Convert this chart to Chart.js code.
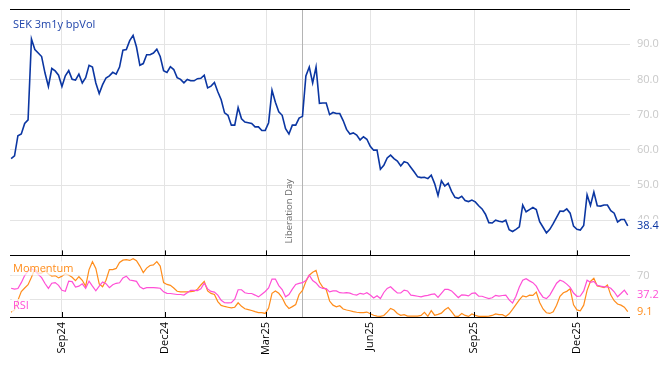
<!DOCTYPE html>
<html>
<head>
<meta charset="utf-8">
<script src="https://cdn.jsdelivr.net/npm/chart.js@4.4.1/dist/chart.umd.min.js"></script>
<style>
  html, body { margin: 0; padding: 0; background: #fff; }
</style>
</head>
<body>
<canvas id="chart" width="668" height="366"></canvas>
<script>
const DAY = 86400000;
const firstDate = '2024-07-18';
const stepDays = 3;

// SEK 3m1y bp vol, one reading every 3 days
const vol = [
  57.5, 58.3, 64, 64.5, 67.5, 68.5, 91.5, 88.5, 87.5, 86.5,
  81.8, 78, 83.1, 82.4, 81.2, 78, 81, 82.5, 80, 79.8,
  81.5, 79, 80.5, 84, 83.5, 79, 76, 78.5, 80.4, 81,
  82, 81.5, 83.5, 88.3, 88.5, 91, 92.5, 89.2, 84, 84.5,
  87, 87, 87.5, 88.6, 86.5, 82.5, 82, 83.6, 82.8, 80.5,
  80, 79, 80, 79.6, 79.6, 80.2, 80.3, 81.2, 77.6, 78.1,
  79.1, 76.5, 74.2, 70.5, 69.8, 67, 67, 72, 68.8, 67.9,
  67.7, 67.5, 66.5, 66.5, 65.5, 65.5, 67.7, 76.9, 73.5, 70.8,
  69.8, 66, 64.5, 67, 67, 69, 69.5, 81, 83.5, 79,
  83.5, 73.2, 73.3, 73.3, 70, 70.6, 70.3, 70.3, 68.3, 65.8,
  64.5, 64.8, 64.2, 62.8, 63.7, 63, 61, 59.9, 59.9, 54.5,
  55.6, 57.7, 58.5, 57.5, 56.8, 55.4, 56.6, 56.3, 55, 53.7,
  52.3, 52.1, 52.2, 51.8, 52.8, 50.4, 47, 51.2, 49.7, 50.5,
  48.2, 46.5, 46.2, 46.8, 45.6, 45.3, 45.7, 45.2, 44.1, 43.2,
  41.7, 39.3, 39.2, 40, 39.7, 39.5, 40, 37.3, 36.8, 37.4,
  38.1, 44.3, 42.4, 43, 43.6, 43, 39.6, 38, 36.4, 37.4,
  39, 40.8, 42.6, 42.5, 43.2, 42, 38.3, 37.4, 37.2, 38.5,
  47.2, 44.2, 48, 44.1, 44, 44.3, 44.3, 42.7, 42, 39.5,
  40.2, 40.2, 38.4
];

const rsi = [
  48.5, 47, 48, 58, 70, 77.5, 81.5, 78, 72, 66.5,
  56.5, 48.2, 57, 58, 53.5, 45, 43.5, 60.5, 59.7, 50.5,
  52, 56, 48.5, 60.6, 52, 44.3, 52, 59.2, 56.3, 49.5,
  54.5, 56.9, 57.8, 66, 69, 62.5, 61.5, 60.2, 50.9, 47.7,
  49.5, 49.8, 49.5, 49.3, 48.5, 42.5, 39.9, 39.7, 38.8, 38,
  38, 37, 41, 45, 45, 44.5, 47.5, 57, 47.5, 43.2,
  42, 37, 28.3, 24, 23.7, 24, 30, 46, 46, 41,
  39.7, 39.7, 37, 34, 38.5, 43, 48.9, 64, 64, 53,
  46.3, 34, 38, 47, 55, 56.7, 58, 61.5, 70.5, 61.5,
  57.5, 50.7, 48.2, 48, 42.4, 44, 44, 41, 40.5, 41,
  40.3, 38, 36.9, 40, 38.5, 41, 37, 32, 36, 31.1,
  41.4, 48.2, 51, 45.5, 40.6, 40.5, 45.5, 44, 37, 36,
  35, 33.9, 35.6, 36.4, 38.3, 39, 33, 40, 46.5, 46.7,
  44, 38.5, 32.8, 37.5, 37, 35.6, 40, 40.6, 35, 35,
  33, 31.1, 32.5, 36.5, 35.3, 36.3, 37, 29, 23.5, 35,
  50.5, 62, 64.5, 61, 58, 52, 41.5, 33.4, 31, 37,
  47, 57, 62, 60, 55.5, 50, 40.5, 35, 35.5, 44,
  62, 58.5, 60, 53.4, 52, 51, 51, 48.5, 42.6, 34.2,
  39.6, 45.3, 37.2
];

const momentum = [
  8, 12, 28, 43, 49, 54.5, 67, 81, 74, 74,
  79, 72.5, 69, 70, 66, 69, 73, 71, 67, 61.5,
  68, 62, 52, 80, 93.4, 82, 56, 51, 62, 80,
  80, 82, 92, 96, 97, 95.5, 98.5, 95, 86, 75,
  82.5, 87, 88, 93.5, 86, 58, 55, 53.5, 49, 43.5,
  42.4, 42.4, 42.5, 43, 43.5, 47, 54, 60, 44, 39.8,
  38, 26, 19.6, 17.8, 16.5, 15.3, 16.5, 24, 18, 14,
  12.5, 11, 9, 7.5, 7.5, 6, 15, 40, 44, 40,
  32.5, 21, 14.5, 17.5, 21, 38, 45, 60, 70.5, 75.5,
  78.7, 59, 50, 46.5, 27, 20, 17.3, 19, 13.5, 11.8,
  10.5, 9, 8, 7.3, 7.3, 8.3, 5.5, 3, 1.6, 1.1,
  2.5, 8.3, 14.5, 11.8, 6, 2.9, 3.9, 1.6, 1.5, 1.5,
  1.5, 2.7, 8, 1.2, 10.8, 3, 4.5, 6.5, 12.3, 16,
  9, 1.5, 1.1, 6, 2.7, 1, 5, 2.7, 1, 1,
  1, 1.5, 2.6, 5.3, 4, 4, 1, 5.5, 13, 21,
  29, 35.5, 33.9, 36.8, 36.5, 42, 24.5, 13.5, 7.2, 6,
  8.8, 20, 35, 41, 43.3, 47.5, 20.5, 12, 10.5, 20,
  45, 60, 65.5, 52.5, 51, 49.5, 54, 37, 27.5, 22,
  20, 16.5, 9.1
];

const tickDates = ['2024-09-01', '2024-12-01', '2025-03-01', '2025-06-01', '2025-09-01', '2025-12-01'];
const tickLabels = ['Sep24', 'Dec24', 'Mar25', 'Jun25', 'Sep25', 'Dec25'];
const volTicks = [30, 40, 50, 60, 70, 80, 90, 100];
const oscTicks = [30, 70];
const eventDate = '2025-04-02';
const eventLabel = 'Liberation Day';

const t0 = Date.parse(firstDate);
const dates = vol.map((_, i) => t0 + i * stepDays * DAY);
const xMin = Date.parse('2024-07-17');
const xMax = Date.parse('2026-01-17');
const tickValues = tickDates.map(d => Date.parse(d));

const BLUE = '#0b36a2';
const ORANGE = '#ff8c1a';
const PINK = '#ff4fd6';
const GRID = '#e4e4e4';
const FONT = '"Open Sans", "Noto Sans", sans-serif';

const pts = arr => arr.map((v, i) => ({ x: dates[i], y: v }));

function boxText(ctx, text, x, y, color, bg) {
  const w = ctx.measureText(text).width;
  if (bg) {
    ctx.fillStyle = bg;
    ctx.fillRect(x - 1, y - 7, w + 2, 14);
  }
  ctx.fillStyle = color;
  ctx.fillText(text, x, y);
}

function noPad(s) {
  s.paddingTop = 0;
  s.paddingBottom = 0;
  s.paddingLeft = 0;
  s.paddingRight = 0;
}

const decor = {
  id: 'decor',
  beforeDatasetsDraw(chart) {
    const { ctx, chartArea: a, scales } = chart;
    const ex = Math.round(scales.x.getPixelForValue(Date.parse(eventDate))) + 0.5;
    ctx.save();
    ctx.strokeStyle = '#b4b4b4';
    ctx.lineWidth = 1;
    ctx.beginPath();
    ctx.moveTo(ex, a.top);
    ctx.lineTo(ex, a.bottom);
    ctx.stroke();
    ctx.translate(ex - 13, scales.y.bottom - 12);
    ctx.rotate(-Math.PI / 2);
    ctx.font = '9.5px ' + FONT;
    ctx.fillStyle = '#6a6a6a';
    ctx.textAlign = 'left';
    ctx.textBaseline = 'middle';
    ctx.fillText(eventLabel, 0, 0);
    ctx.restore();
  },
  afterDatasetsDraw(chart) {
    const { ctx, chartArea: a, scales } = chart;
    const { x, y, y2 } = scales;
    ctx.save();
    ctx.strokeStyle = '#000';
    ctx.lineWidth = 1;
    [a.top, y.bottom, a.bottom].forEach(py => {
      const yy = Math.round(py) + 0.5;
      ctx.beginPath();
      ctx.moveTo(a.left, yy);
      ctx.lineTo(a.right, yy);
      ctx.stroke();
    });
    tickValues.forEach(v => {
      const px = Math.round(x.getPixelForValue(v)) + 0.5;
      [y.bottom, a.bottom].forEach(py => {
        ctx.beginPath();
        ctx.moveTo(px, py);
        ctx.lineTo(px, py - 5);
        ctx.stroke();
      });
    });

    ctx.font = '11px ' + FONT;
    ctx.textAlign = 'left';
    ctx.textBaseline = 'middle';
    boxText(ctx, 'SEK 3m1y bpVol', 13, 25, '#1f44aa', null);
    boxText(ctx, 'Momentum', 13, y.bottom + 13, ORANGE, 'rgba(255,255,255,0.72)');
    boxText(ctx, 'RSI', 13, a.bottom - 11, PINK, 'rgba(255,255,255,0.72)');

    const lx = a.right + 7;
    boxText(ctx, vol[vol.length - 1].toFixed(1), lx, y.getPixelForValue(vol[vol.length - 1]), BLUE, '#fff');
    boxText(ctx, rsi[rsi.length - 1].toFixed(1), lx, y2.getPixelForValue(rsi[rsi.length - 1]), PINK, '#fff');
    boxText(ctx, momentum[momentum.length - 1].toFixed(1), lx, y2.getPixelForValue(momentum[momentum.length - 1]), ORANGE, '#fff');
    ctx.restore();
  }
};

new Chart(document.getElementById('chart'), {
  type: 'line',
  data: {
    datasets: [
      { label: 'SEK 3m1y bpVol', data: pts(vol), yAxisID: 'y', borderColor: BLUE, borderWidth: 1.6 },
      { label: 'RSI', data: pts(rsi), yAxisID: 'y2', borderColor: PINK, borderWidth: 1.2 },
      { label: 'Momentum', data: pts(momentum), yAxisID: 'y2', borderColor: ORANGE, borderWidth: 1.2 }
    ]
  },
  options: {
    responsive: false,
    animation: false,
    devicePixelRatio: 1,
    layout: { padding: { left: 10, top: 9, right: 0, bottom: 0 } },
    elements: { point: { radius: 0 }, line: { tension: 0 } },
    plugins: { legend: { display: false }, tooltip: { enabled: false } },
    scales: {
      x: {
        type: 'linear',
        min: xMin,
        max: xMax,
        afterBuildTicks: s => { s.ticks = tickValues.map(v => ({ value: v })); },
        afterFit: s => { s.height = 49; noPad(s); },
        grid: { color: GRID, drawTicks: false },
        border: { display: false },
        ticks: {
          autoSkip: false,
          minRotation: 90,
          maxRotation: 90,
          padding: 5,
          color: '#000',
          font: { family: FONT, size: 11 },
          callback: v => tickLabels[tickValues.indexOf(v)] || ''
        }
      },
      y: {
        position: 'right',
        stack: 'panels',
        stackWeight: 4,
        min: 30,
        max: 100,
        afterBuildTicks: s => { s.ticks = volTicks.map(v => ({ value: v })); },
        afterFit: s => { s.width = 38; noPad(s); },
        grid: { color: GRID, drawTicks: false },
        border: { display: false },
        ticks: {
          padding: 7,
          color: '#c8c8c8',
          font: { family: FONT, size: 11 },
          callback: v => (v >= 40 && v <= 90) ? v.toFixed(1) : ''
        }
      },
      y2: {
        position: 'right',
        stack: 'panels',
        stackWeight: 1,
        min: 0,
        max: 104,
        afterBuildTicks: s => { s.ticks = oscTicks.map(v => ({ value: v })); },
        afterFit: s => { s.width = 38; noPad(s); },
        grid: { color: GRID, drawTicks: false },
        border: { display: false },
        ticks: {
          padding: 7,
          color: '#c8c8c8',
          font: { family: FONT, size: 11 },
          callback: v => String(v)
        }
      }
    }
  },
  plugins: [decor]
});
</script>
</body>
</html>
